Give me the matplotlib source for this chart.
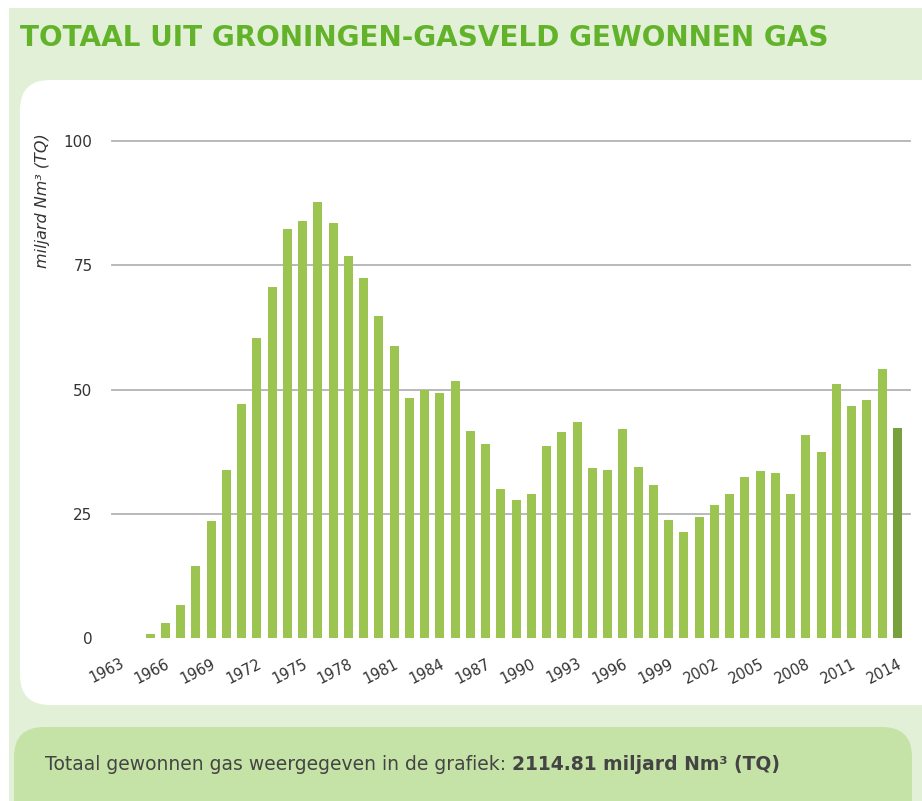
import numpy as np
import matplotlib
matplotlib.use("Agg")
import matplotlib.pyplot as plt
from matplotlib.patches import FancyBboxPatch, Rectangle

# ------------------ DATOS ------------------
jaren = list(range(1963, 2015))
gas = [0.0, 0.0, 0.8, 3.1, 6.6, 14.4, 23.5, 33.9, 47.1, 60.3,
       70.6, 82.3, 83.9, 87.8, 83.6, 76.9, 72.4, 64.8, 58.7, 48.3,
       50.0, 49.3, 51.7, 41.7, 39.0, 30.0, 27.8, 29.0, 38.6, 41.4,
       43.4, 34.3, 33.9, 42.1, 34.4, 30.8, 23.7, 21.3, 24.3, 26.7,
       29.0, 32.4, 33.7, 33.2, 29.0, 40.9, 37.4, 51.1, 46.6, 47.8,
       54.2, 42.3]
y_ticks = [0, 25, 50, 75, 100]
titel = "TOTAAL UIT GRONINGEN-GASVELD GEWONNEN GAS"
y_label = "miljard Nm³ (TQ)"
voet_normaal = "Totaal gewonnen gas weergegeven in de grafiek: "
voet_vet = "2114.81 miljard Nm³ (TQ)"

W, H = 922, 801
fig = plt.figure(figsize=(W / 100, H / 100), dpi=100)
fig.patch.set_facecolor("white")

# ------------------ FONDO ------------------
bg = fig.add_axes([0, 0, 1, 1], zorder=0)
bg.set_xlim(0, W)
bg.set_ylim(H, 0)
bg.axis("off")
bg.add_patch(Rectangle((9, 8), W, H, color="#e2f0d8", lw=0))
bg.add_patch(FancyBboxPatch((20, 80), 960, 625,
                            boxstyle="round,pad=0,rounding_size=30",
                            color="white", lw=0))
bg.add_patch(FancyBboxPatch((14, 727), 898, 140,
                            boxstyle="round,pad=0,rounding_size=30",
                            color="#c5e3a6", lw=0))

# ------------------ GRAFICO ------------------
ax = fig.add_axes([112 / W, 1 - 638 / H, (905 - 112) / W, (638 - 141) / H], zorder=1)
ax.patch.set_alpha(0)
x = np.arange(len(jaren))
kleuren = ["#9bc450"] * (len(jaren) - 1) + ["#78a03d"]
ax.bar(x, gas, width=0.6, color=kleuren, zorder=3)

for t in y_ticks[1:]:
    ax.axhline(t, color="#b3b3b3", lw=1.3, zorder=1, xmax=1.006, clip_on=False)

ax.set_xlim(-0.5, len(jaren) - 0.5)
ax.set_ylim(0, 100)
ax.set_yticks(y_ticks)
ax.set_yticklabels([str(t) for t in y_ticks], fontsize=11, color="#333333")
ax.set_xticks(x[::3])
ax.set_xticklabels([str(j) for j in jaren[::3]], fontsize=10.5, color="#333333",
                   rotation=27, ha="right", va="top", rotation_mode="anchor")
ax.tick_params(axis="y", length=0, pad=14)
ax.tick_params(axis="x", length=0, pad=13)
for s in ax.spines.values():
    s.set_visible(False)

# ------------------ TEXTOS ------------------
fig.text(20 / W, 1 - 38 / H, titel, fontsize=20.1, fontweight="bold",
         color="#62b32a", va="center", ha="left")
fig.text(42 / W, 1 - 201 / H, y_label, rotation=90, style="italic",
         fontsize=11.5, color="#333333", ha="center", va="center")

t1 = fig.text(45 / W, 1 - 764 / H, voet_normaal, fontsize=13.5,
              color="#444444", va="center", ha="left")
renderer = fig.canvas.get_renderer()
bb = t1.get_window_extent(renderer=renderer)
fig.text(bb.x1 / W, 1 - 764 / H, voet_vet, fontsize=13.5, fontweight="bold",
         color="#444444", va="center", ha="left")

fig.savefig("out.png", dpi=100, facecolor=fig.get_facecolor())
